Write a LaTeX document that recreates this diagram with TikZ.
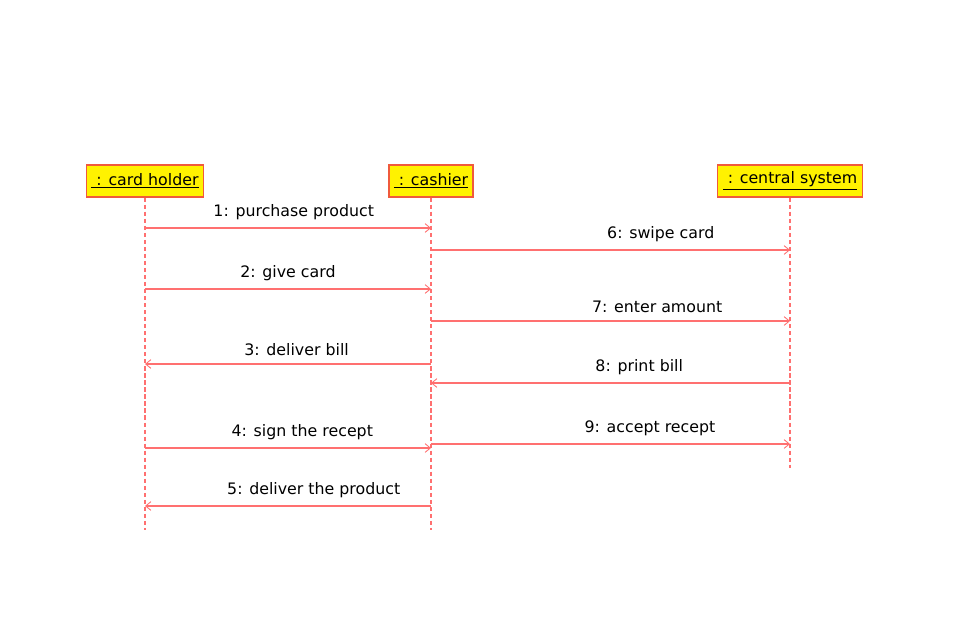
\documentclass[tikz,border=0pt]{standalone}
\usepackage{fontspec}
\setmainfont{DejaVu Sans}
\usetikzlibrary{arrows.meta}
\definecolor{lifered}{HTML}{FF7070}
\definecolor{boxred}{HTML}{F05A3C}
\tikzset{
  obj/.style={draw=boxred,fill=yellow,line width=0.7pt,minimum height=32*0.02cm,inner xsep=2.8pt,font=\fontsize{9}{10}\selectfont},
  life/.style={lifered,line width=0.6pt,dash pattern=on 2.4pt off 1.6pt},
  msg/.style={lifered,line width=0.7pt,-{Straight Barb[length=3pt,width=5pt,line width=0.5pt]}},
  lbl/.style={above=0.8pt,text=black,font=\fontsize{9}{10}\selectfont}
}
\begin{document}
\begin{tikzpicture}[x=0.02cm,y=-0.02cm]
\useasboundingbox (0,0) rectangle (969,643);
\foreach \n/\x/\t in {ch/145/card holder,ca/431/cashier,cs/790/central system}
    \node [obj] (\n) at (\x,181) {\raisebox{-2pt}{\underline{\ : \t}}};
\draw[life] (ch) -- (145,530);
\draw[life] (ca) -- (431,530);
\draw[life] (cs) -- (790,468);
\foreach \y/\a/\b/\p/\t in {228/ch/ca/0.52/{1: purchase product},250/ca/cs/0.64/{6: swipe card},
    289/ch/ca/0.50/{2: give card},321/ca/cs/0.63/{7: enter amount},364/ca/ch/0.47/{3: deliver bill},
    383/cs/ca/0.42/{8: print bill},448/ch/ca/0.55/{4: sign the recept},444/ca/cs/0.61/{9: accept recept},
    506/ca/ch/0.41/{5: deliver the product}}
    \draw[msg] (\a |- 0,\y) -- (\b |- 0,\y) node [lbl,pos=\p] {\t};
\end{tikzpicture}
\end{document}
